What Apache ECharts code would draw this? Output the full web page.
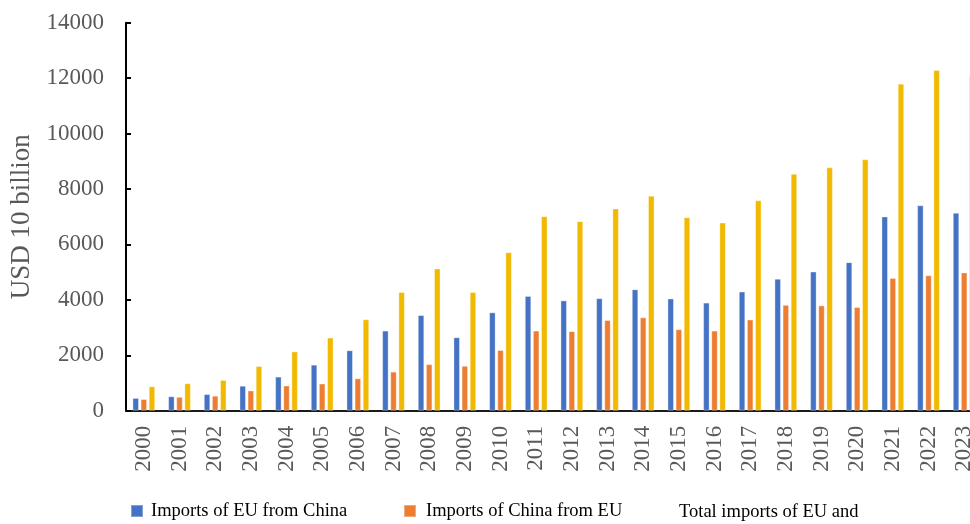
<!DOCTYPE html>
<html>
<head>
<meta charset="utf-8">
<script src="https://cdn.jsdelivr.net/npm/echarts@6/dist/echarts.min.js"></script>
<style>
  html, body { margin: 0; padding: 0; background: #ffffff; }
  #chart { width: 970px; height: 524px; }
</style>
</head>
<body>
<div id="chart"></div>
<script>
// EU–China trade, USD 10 billion
const years = ['2000','2001','2002','2003','2004','2005','2006','2007','2008','2009','2010','2011',
               '2012','2013','2014','2015','2016','2017','2018','2019','2020','2021','2022','2023'];
const euFromChina = [460, 520, 600, 900, 1230, 1660, 2180, 2890, 3450, 2650, 3550, 4140,
                     3980, 4060, 4380, 4050, 3900, 4300, 4760, 5020, 5360, 7010, 7410, 7140];
const chinaFromEu = [420, 500, 540, 730, 910, 980, 1170, 1410, 1680, 1620, 2190, 2890,
                     2870, 3270, 3370, 2940, 2890, 3290, 3820, 3800, 3740, 4790, 4890, 4990];
const totalImports = [880, 990, 1110, 1610, 2140, 2640, 3300, 4280, 5130, 4280, 5720, 7020,
                      6840, 7300, 7760, 6980, 6790, 7590, 8550, 8780, 9070, 11800, 12290, 12100];
const yTicks = { min: 0, max: 14000, interval: 2000 };

const seriesNames = ['Imports of EU from China', 'Imports of China from EU', 'Total imports of EU and China'];
const colors = ['#4472C4', '#ED7D31', '#F1B900'];
const serif = '"Liberation Serif", "Times New Roman", serif';

const chart = echarts.init(document.getElementById('chart'), null, { renderer: 'canvas' });

function bar(name, data, color) {
  return {
    name: name,
    type: 'bar',
    data: data,
    barWidth: 6.5,
    barGap: '25%',
    itemStyle: { color: color, borderColor: 'rgba(255,255,255,0.35)', borderWidth: 1 },
    emphasis: { disabled: true }
  };
}

const legendBase = {
  orient: 'horizontal',
  padding: 0,
  itemWidth: 12,
  itemHeight: 12,
  icon: 'rect',
  selectedMode: false
};

chart.setOption({
  animation: false,
  backgroundColor: '#ffffff',
  color: colors,
  // the plot runs past the right edge, so the last year is cut off
  grid: { left: 126, top: 22.7, width: 856, height: 388, containLabel: false, outerBoundsMode: 'none' },
  legend: [
    Object.assign({}, legendBase, {
      left: 130, top: 501.5,
      data: [seriesNames[0]],
      textStyle: { fontFamily: serif, fontSize: 18.5, color: '#000000', padding: [0, 0, 0, 3] }
    }),
    Object.assign({}, legendBase, {
      left: 403, top: 501.5,
      data: [seriesNames[1]],
      textStyle: { fontFamily: serif, fontSize: 18.5, color: '#000000', padding: [8, 0, 0, 5] }
    }),
    Object.assign({}, legendBase, {
      left: 661, top: 501,
      data: [{ name: seriesNames[2], itemStyle: { opacity: 0 } }],
      formatter: function () { return 'Total imports of EU and\nChina'; },
      textStyle: { fontFamily: serif, fontSize: 18.5, lineHeight: 22, color: '#000000' }
    })
  ],
  xAxis: {
    type: 'category',
    data: years,
    axisLine: { show: true, lineStyle: { color: '#1a1a1a', width: 2 } },
    axisTick: { show: false },
    axisLabel: {
      rotate: 90,
      margin: 15,
      fontFamily: serif,
      fontSize: 23,
      color: '#595959',
      interval: 0,
      hideOverlap: false
    },
    splitLine: { show: false }
  },
  yAxis: {
    type: 'value',
    min: yTicks.min,
    max: yTicks.max,
    interval: yTicks.interval,
    name: 'USD 10 billion',
    nameLocation: 'middle',
    nameGap: 90,
    nameTextStyle: { fontFamily: serif, fontSize: 27, color: '#595959' },
    axisLine: { show: true, lineStyle: { color: '#000000', width: 2 } },
    axisTick: { show: true, inside: true, length: 5, lineStyle: { color: '#000000', width: 2 } },
    axisLabel: {
      margin: 22, fontFamily: serif, fontSize: 23, color: '#595959',
      formatter: function (v) { return String(v); }
    },
    splitLine: { show: false }
  },
  series: [
    bar(seriesNames[0], euFromChina, colors[0]),
    bar(seriesNames[1], chinaFromEu, colors[1]),
    bar(seriesNames[2], totalImports, colors[2])
  ]
});
</script>
</body>
</html>
